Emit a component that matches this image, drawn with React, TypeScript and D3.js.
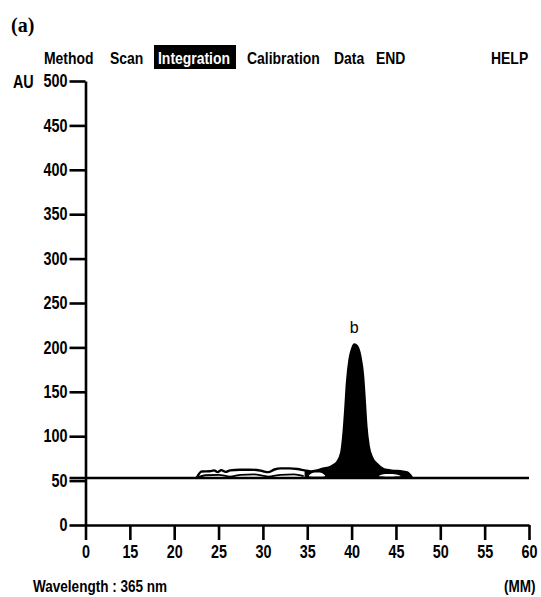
import React, { useEffect, useRef } from 'react';
import * as d3 from 'd3';

// Integration screen of the scanner: one peak ("b") over a flat baseline.

const W = 541;
const H = 597;

const menuItems = ['Method', 'Scan', 'Integration', 'Calibration', 'Data', 'END', 'HELP'];
const activeItem = 'Integration';

const yTickValues = [0, 50, 100, 150, 200, 250, 300, 350, 400, 450, 500];
const xTickValues = [10, 15, 20, 25, 30, 35, 40, 45, 50, 55, 60];
const xTickLabels = ['0', '15', '20', '25', '30', '35', '40', '45', '50', '55', '60'];

const baselineAU = 53;

// upper outline of the trace (MM, AU)
const traceMM = [22.55, 23.1, 24.0, 24.5, 24.9, 25.3, 25.8, 26.3, 27.4, 28.5, 29.3, 30.0, 30.6, 31.3, 32.0, 33.0, 33.9, 34.7, 35.45, 36.1, 36.8, 37.4, 37.9, 38.35, 38.84, 39.1, 39.29, 39.48, 39.77, 40.04, 40.3, 40.6, 40.98, 41.29, 41.47, 41.66, 41.92, 42.3, 42.87, 43.6, 44.2, 44.74, 45.5, 46.25, 46.8];
const traceAU = [53.5, 60.3, 60.5, 61.5, 59.5, 61.8, 59.8, 61.5, 62.3, 62.3, 62, 60.5, 59.5, 62.5, 63.8, 63.8, 63, 61.5, 60.3, 61.5, 63.5, 64.5, 67, 70.4, 81.7, 104, 130, 160, 186.5, 197.8, 203.4, 201.5, 190, 167.8, 141.6, 111.6, 89, 76, 68.5, 62.9, 61.8, 61, 60.5, 59.2, 53.5];

// lower outline of the small loops left of the peak
const loopMM = [22.6, 23.5, 25.0, 26.3, 27.5, 29.0, 30.6, 32.0, 33.5, 34.6];
const loopAU = [53.5, 56, 56.5, 54.5, 56.5, 57, 54.5, 56.5, 57, 55];

// integrated (filled) region starts here
const fillFromMM = 34.0;

// white gaps left inside the filled shoulders
const holeLeftMM = [35.2, 35.8, 36.4, 37.0];
const holeLeftTop = [56, 59, 59, 56];
const holeLeftBottom = [55, 54.5, 54.5, 55];
const holeRightMM = [43.1, 43.8, 44.6, 45.5];
const holeRightTop = [55.5, 57.5, 57.5, 55.5];
const holeRightBottom = [54.8, 54.6, 54.6, 54.8];

const peakLabel = 'b';
const peakMM = 40.3;

const menuX = [44, 110, 158, 247, 334, 376, 491];

// no narrow font installed: draw Arial-metric bold and squeeze it horizontally
const sans = '"Liberation Sans", Arial, sans-serif';
const squeeze = 0.82;

const App = () => {
    const svgRef = useRef<SVGSVGElement>(null);

    useEffect(() => {
        const svg = d3.select(svgRef.current);
        svg.selectAll('*').remove();

        const x = d3.scaleLinear().domain([10, 60]).range([85.5, 529]);
        const y = d3.scaleLinear().domain([0, 500]).range([525, 81]);

        // panel tag
        svg.append('text')
            .attr('x', 11).attr('y', 32)
            .attr('font-family', '"Liberation Serif", "DejaVu Serif", serif')
            .attr('font-weight', 'bold')
            .attr('font-size', 20)
            .text('(a)');

        // menu bar
        const menu = svg.append('g')
            .attr('font-family', sans)
            .attr('font-weight', 'bold')
            .attr('font-size', 17);
        menuItems.forEach((m, i) => {
            if (m === activeItem) {
                menu.append('rect')
                    .attr('x', menuX[i] - 4).attr('y', 45)
                    .attr('width', 82).attr('height', 24)
                    .attr('fill', '#000');
            }
            menu.append('text')
                .attr('class', 'narrow')
                .attr('x', menuX[i]).attr('y', 63.5)
                .attr('fill', m === activeItem ? '#fff' : '#000')
                .text(m);
        });

        // axes
        const yAxis = d3.axisLeft(y)
            .tickValues(yTickValues)
            .tickSize(16)
            .tickSizeOuter(0)
            .tickPadding(2)
            .tickFormat(d => String(d));
        const gy = svg.append('g')
            .attr('transform', `translate(${x(10)},0)`)
            .call(yAxis);

        const xAxis = d3.axisBottom(x)
            .tickValues(xTickValues)
            .tickSize(15)
            .tickSizeOuter(0)
            .tickPadding(6)
            .tickFormat((d, i) => xTickLabels[i]);
        const gx = svg.append('g')
            .attr('transform', `translate(0,${y(0)})`)
            .call(xAxis);

        [gx, gy].forEach(g => {
            g.attr('font-family', sans)
                .attr('font-weight', 'bold')
                .attr('font-size', 17.5);
            g.select('.domain').attr('stroke', '#000').attr('stroke-width', 2.6);
            g.selectAll('.tick line').attr('stroke', '#000').attr('stroke-width', 2.6);
            g.selectAll('.tick text').attr('fill', '#000').attr('class', 'narrow');
        });

        svg.append('text')
            .attr('class', 'narrow')
            .attr('x', 13).attr('y', 88)
            .attr('font-family', sans)
            .attr('font-weight', 'bold')
            .attr('font-size', 17.5)
            .text('AU');

        // baseline
        svg.append('line')
            .attr('x1', x(10) - 16).attr('x2', x(60))
            .attr('y1', y(baselineAU)).attr('y2', y(baselineAU))
            .attr('stroke', '#000').attr('stroke-width', 2.6);

        const pts = traceMM.map((m, i) => [m, traceAU[i]] as [number, number]);
        const filled = pts.filter(p => p[0] >= fillFromMM);

        const area = d3.area<[number, number]>()
            .x(d => x(d[0]))
            .y0(y(baselineAU))
            .y1(d => y(d[1]))
            .curve(d3.curveMonotoneX);
        svg.append('path')
            .attr('d', area(filled))
            .attr('fill', '#000');

        const holeArea = d3.area<number>()
            .curve(d3.curveMonotoneX);
        [[holeLeftMM, holeLeftTop, holeLeftBottom], [holeRightMM, holeRightTop, holeRightBottom]]
            .forEach(([mm, top, bot]) => {
                holeArea.x((d, i) => x(mm[i])).y1((d, i) => y(top[i])).y0((d, i) => y(bot[i]));
                svg.append('path')
                    .attr('d', holeArea(mm))
                    .attr('fill', '#fff');
            });

        const line = d3.line<[number, number]>()
            .x(d => x(d[0]))
            .y(d => y(d[1]))
            .curve(d3.curveMonotoneX);
        svg.append('path')
            .attr('d', line(pts))
            .attr('fill', 'none')
            .attr('stroke', '#000')
            .attr('stroke-width', 2.4);
        svg.append('path')
            .attr('d', line(loopMM.map((m, i) => [m, loopAU[i]] as [number, number])))
            .attr('fill', 'none')
            .attr('stroke', '#000')
            .attr('stroke-width', 1.8);

        svg.append('text')
            .attr('x', x(peakMM)).attr('y', y(d3.max(traceAU)!) - 11)
            .attr('text-anchor', 'middle')
            .attr('font-family', sans)
            .attr('font-size', 16)
            .text(peakLabel);

        // footer
        svg.append('text')
            .attr('class', 'narrow')
            .attr('x', 33).attr('y', 592)
            .attr('font-family', sans)
            .attr('font-weight', 'bold')
            .attr('font-size', 16.5)
            .text('Wavelength : 365 nm');
        svg.append('text')
            .attr('class', 'narrow')
            .attr('x', 504).attr('y', 592)
            .attr('font-family', sans)
            .attr('font-weight', 'bold')
            .attr('font-size', 16.5)
            .text('(MM)');

        svg.selectAll<SVGTextElement, unknown>('text.narrow').each(function () {
            const w = this.getComputedTextLength();
            d3.select(this)
                .attr('textLength', w * squeeze)
                .attr('lengthAdjust', 'spacingAndGlyphs');
        });
    }, []);

    return (
        <svg
            ref={svgRef}
            width={W}
            height={H}
            style={{ position: 'absolute', left: 0, top: 0, background: '#fff' }}
        />
    );
};

export default App;
